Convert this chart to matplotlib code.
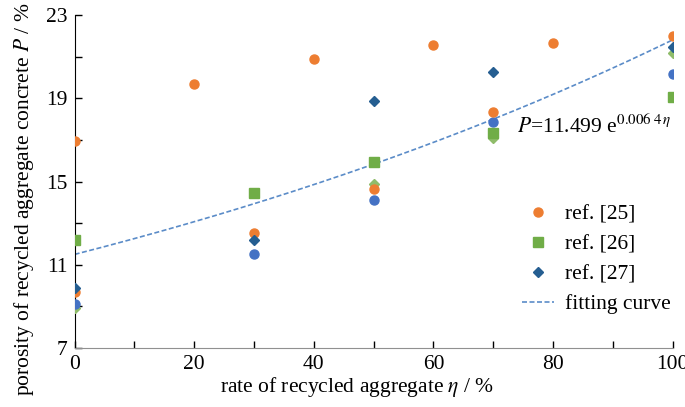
import numpy as np
import matplotlib
matplotlib.use("Agg")
import matplotlib.pyplot as plt

plt.rcParams['font.family'] = ['Liberation Serif', 'DejaVu Serif']
plt.rcParams['mathtext.fontset'] = 'stix'

# data
x25 = [0, 0, 20, 30, 40, 50, 60, 70, 80, 100]
y25 = [16.95, 9.67, 19.67, 12.53, 20.87, 14.63, 21.57, 18.35, 21.67, 22.0]
x26 = [0, 30, 50, 70, 100]
y26 = [12.2, 14.43, 15.93, 17.31, 19.06]
x27 = [0, 30, 50, 70, 100]
y27 = [9.9, 12.2, 18.85, 20.26, 21.48]
# extra unlabeled series
xb = [0, 30, 50, 70, 100]
yb = [9.09, 11.5, 14.12, 17.86, 20.16]
xg = [0, 50, 70, 100]
yg = [8.9, 14.86, 17.08, 21.19]
fit_a, fit_b = 11.499, 0.0064

xticks = [0, 20, 40, 60, 80, 100]
yticks = [7, 11, 15, 19, 23]

fig = plt.figure(figsize=(6.85, 4.07), dpi=100)
ax = fig.add_axes([0.109, 0.145, 0.873, 0.818])

c_or = '#ED7D31'
c_gr = '#70AD47'
c_db = '#255E91'
c_bl = '#4472C4'
c_lg = '#8FBC6A'

ax.plot(xg, yg, 'D', color=c_lg, ms=5.5, ls='none', zorder=3)
ax.plot(xb, yb, 'o', color=c_bl, ms=6.5, ls='none', zorder=3)
ax.plot(x25, y25, 'o', color=c_or, ms=6.5, ls='none', zorder=4, label='ref. [25]')
ax.plot(x26, y26, 's', color=c_gr, ms=6.5, ls='none', zorder=4, label='ref. [26]')
ax.plot(x27, y27, 'D', color=c_db, ms=5, ls='none', zorder=5, label='ref. [27]')

xf = np.linspace(0, 100, 200)
ax.plot(xf, fit_a * np.exp(fit_b * xf), color='#5B8CC8', lw=1.2,
        ls=(0, (3, 1.5)), zorder=2, label='fitting curve')

ax.set_xlim(0, 100)
ax.set_ylim(7, 23)
ax.set_xticks(xticks)
ax.set_xticks(range(0, 101, 10), minor=True)
ax.set_yticks(yticks)
ax.set_yticks(range(7, 24, 2), minor=True)
ax.tick_params(which='both', direction='in', labelsize=15.5, length=5, width=1)
ax.tick_params(axis='x', pad=5)
ax.tick_params(axis='y', pad=5)
ax.spines['top'].set_visible(False)
ax.spines['right'].set_visible(False)
ax.spines['left'].set_color('black')
ax.spines['bottom'].set_color('#909090')

ax.set_xlabel(r'rate of recycled aggregate $\eta$ / %', fontsize=15.5)
ax.set_ylabel(r'porosity of recycled aggregate concrete $P$ / %', fontsize=15.5)
ax.xaxis.set_label_coords(0.472, -0.08)
ax.yaxis.set_label_coords(-0.064, 0.447)

ax.text(74, 17.66, r'$P$=11.499 e$^{0.006\;4\,\eta}$', fontsize=15.5, va='center', ha='left')

leg = ax.legend(loc='upper left', bbox_to_anchor=(0.748, 0.43), frameon=False,
                fontsize=15.5, handlelength=1.5, handletextpad=0.5, labelspacing=0.45,
                borderaxespad=0, borderpad=0)

fig.savefig('out.png', dpi=100)
